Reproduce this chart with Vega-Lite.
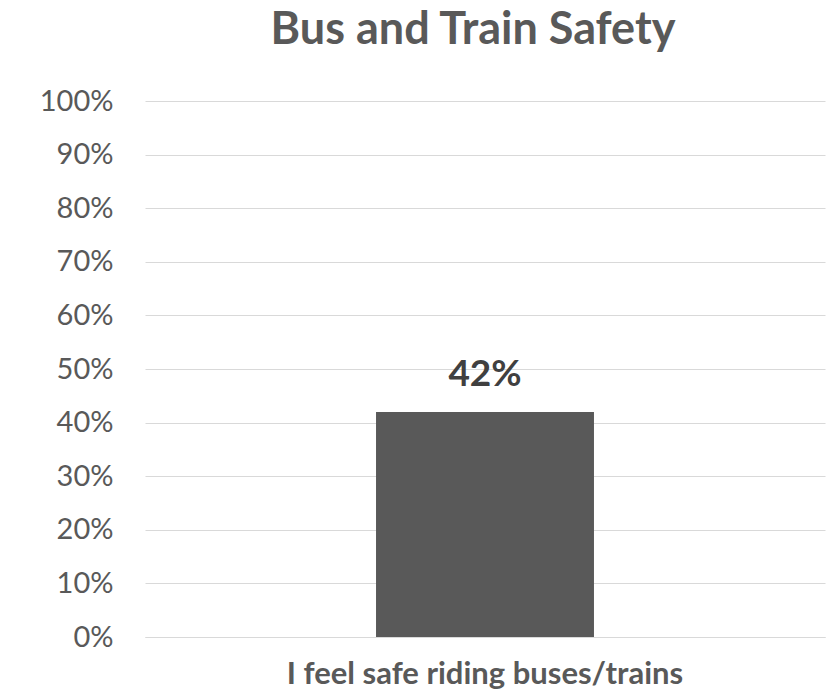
{
  "$schema": "https://vega.github.io/schema/vega-lite/v6.json",
  "autosize": "none",
  "width": 680,
  "height": 536,
  "padding": {"left": 145, "top": 101, "right": 1, "bottom": 57},
  "background": "white",
  "title": {
    "text": "Bus and Train Safety",
    "font": "Lato",
    "fontSize": 45,
    "fontWeight": "bold",
    "color": "#595959",
    "anchor": "middle",
    "dx": -12,
    "offset": 34
  },
  "data": {"values": [{"category": "I feel safe riding buses/trains", "value": 0.42}]},
  "config": {
    "view": {"stroke": null},
    "font": "Lato"
  },
  "encoding": {
    "x": {
      "field": "category",
      "type": "nominal",
      "scale": {"paddingInner": 0.5, "paddingOuter": 0.53},
      "axis": {
        "title": null,
        "labelAngle": 0,
        "labelLimit": 0,
        "labelFont": "Lato",
        "labelFontSize": 31,
        "labelFontWeight": "bold",
        "labelColor": "#595959",
        "labelPadding": 22,
        "ticks": false,
        "domainColor": "#d9d9d9",
        "domainWidth": 1
      }
    },
    "y": {
      "field": "value",
      "type": "quantitative",
      "scale": {"domain": [0, 1]},
      "axis": {
        "title": null,
        "format": ".0%",
        "values": [0, 0.1, 0.2, 0.3, 0.4, 0.5, 0.6, 0.7, 0.8, 0.9, 1],
        "labelFont": "Lato",
        "labelFontSize": 29,
        "labelColor": "#595959",
        "labelPadding": 32,
        "ticks": false,
        "domain": false,
        "gridColor": "#d9d9d9",
        "gridWidth": 1
      }
    }
  },
  "layer": [
    {"mark": {"type": "bar", "color": "#595959"}},
    {
      "mark": {"type": "text", "baseline": "alphabetic", "dy": -26, "font": "Lato", "fontSize": 37, "fontWeight": "bold", "color": "#404040"},
      "encoding": {"text": {"field": "value", "type": "quantitative", "format": ".0%"}}
    }
  ]
}
